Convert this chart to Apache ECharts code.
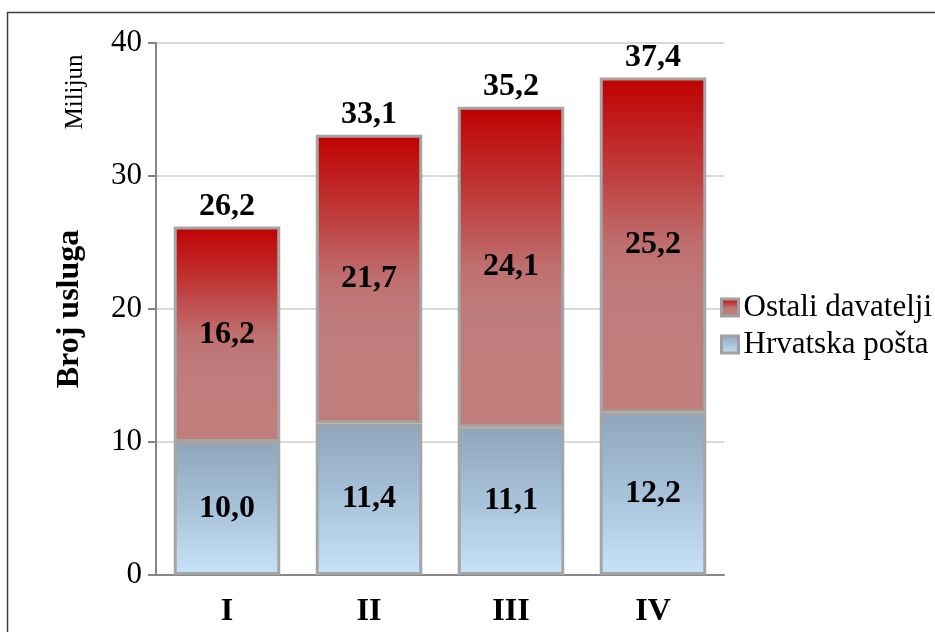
<!DOCTYPE html>
<html><head><meta charset="utf-8">
<script src="https://cdn.jsdelivr.net/npm/echarts@6/dist/echarts.min.js"></script>
<style>html,body{margin:0;padding:0;background:#fff}#c{width:935px;height:632px}</style>
</head><body><div id="c"></div>
<script>
var categories = ['I', 'II', 'III', 'IV'];
var hrvatskaPosta = [10.0, 11.4, 11.1, 12.2];
var ostaliDavatelji = [16.2, 21.7, 24.1, 25.2];
var totals = [26.2, 33.1, 35.2, 37.4];
var yTicks = { min: 0, max: 40, interval: 10 };

var FONT = "'Times New Roman', 'Liberation Serif', serif";
function fmt(v) { return v.toFixed(1).replace('.', ','); }

var chart = echarts.init(document.getElementById('c'));
chart.setOption({
  animation: false,
  graphic: [{
    type: 'rect', shape: { x: 7.5, y: 12.5, width: 1000, height: 1000 },
    style: { fill: 'none', stroke: '#404040', lineWidth: 1.5 }, silent: true, z: -10
  }, {
    type: 'text', x: 75, y: 92, rotation: Math.PI / 2,
    style: { text: 'Milijun', font: '25px ' + FONT, fill: '#000', align: 'center', verticalAlign: 'middle' }
  }],
  grid: { left: 156, right: 211, top: 43, bottom: 57 },
  legend: {
    data: ['Ostali davatelji', 'Hrvatska pošta'],
    orient: 'vertical', left: 715, top: 287, itemGap: 6,
    itemWidth: 17, itemHeight: 17, icon: 'rect',
    textStyle: { fontFamily: FONT, fontSize: 31, color: '#000', padding: [0, 0, 0, 0] },
    itemStyle: { borderColor: '#a0a0a0', borderWidth: 3 }
  },
  xAxis: {
    type: 'category', data: categories,
    axisLine: { lineStyle: { color: '#868686', width: 2 } },
    axisTick: { show: false },
    axisLabel: { fontFamily: FONT, fontSize: 32, fontWeight: 'bold', color: '#000', margin: 21 }
  },
  yAxis: {
    type: 'value', min: yTicks.min, max: yTicks.max, interval: yTicks.interval,
    name: 'Broj usluga', nameLocation: 'middle', nameGap: 70,
    nameTextStyle: { fontFamily: FONT, fontSize: 32, fontWeight: 'bold', color: '#000' },
    axisLine: { show: true, lineStyle: { color: '#868686', width: 2 } },
    axisTick: { show: true, length: 8, lineStyle: { color: '#868686', width: 2 } },
    splitLine: { lineStyle: { color: '#d9d9d9', width: 2 } },
    axisLabel: { fontFamily: FONT, fontSize: 31, color: '#000', margin: 14 }
  },
  series: [{
    name: 'Hrvatska pošta', type: 'bar', stack: 's', barWidth: '75%', data: hrvatskaPosta,
    itemStyle: {
      color: new echarts.graphic.LinearGradient(0, 0, 0, 1, [
        { offset: 0, color: '#8ea6ba' }, { offset: 0.5, color: '#a8c2da' }, { offset: 1, color: '#c8e2fa' }]),
      borderColor: '#a5a5a5', borderWidth: 3
    },
    label: { show: true, position: 'inside', formatter: function (p) { return fmt(p.value); },
      fontFamily: FONT, fontSize: 32, fontWeight: 'bold', color: '#000' }
  }, {
    name: 'Ostali davatelji', type: 'bar', stack: 's', data: ostaliDavatelji,
    itemStyle: {
      color: new echarts.graphic.LinearGradient(0, 0, 0, 1, [
        { offset: 0, color: '#c00000' }, { offset: 0.25, color: '#c03535' },
        { offset: 0.5, color: '#bf6f6f' }, { offset: 0.65, color: '#bf7c7c' },
        { offset: 1, color: '#bf7d7b' }]),
      borderColor: '#a5a5a5', borderWidth: 3
    },
    label: { show: true, position: 'inside', formatter: function (p) { return fmt(p.value); },
      fontFamily: FONT, fontSize: 32, fontWeight: 'bold', color: '#000' }
  }, {
    name: 'Ukupno', type: 'bar', stack: 's', data: totals.map(function () { return 0; }),
    itemStyle: { color: 'rgba(0,0,0,0)', borderWidth: 0 },
    label: { show: true, position: 'top', distance: 4, formatter: function (p) { return fmt(totals[p.dataIndex]); },
      fontFamily: FONT, fontSize: 32, fontWeight: 'bold', color: '#000' }
  }]
});
</script></body></html>
